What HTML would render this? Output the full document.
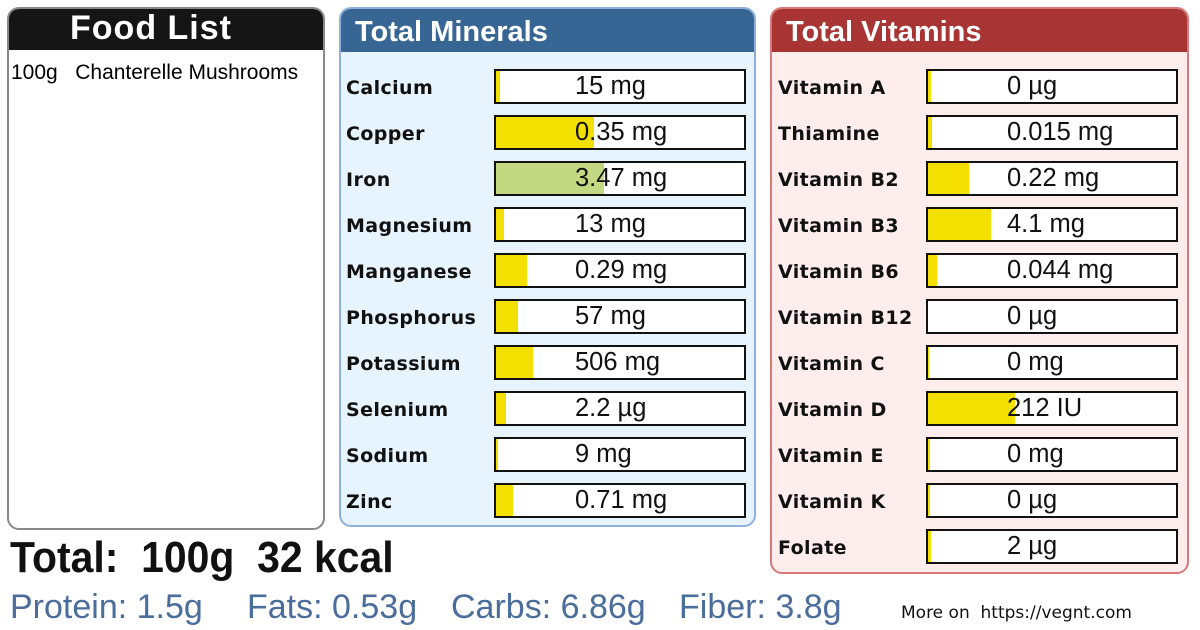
<!DOCTYPE html>
<html><head><meta charset="utf-8"><style>
body{margin:0;width:1200px;height:630px;background:#fff;position:relative;overflow:hidden;font-family:"Liberation Sans","DejaVu Sans",sans-serif}
.panel{position:absolute;border-radius:12px;overflow:hidden;box-sizing:border-box}
.hdr{position:absolute;left:0;right:0;top:0;color:#fff;font-weight:bold;font-size:29px}
.lbl{position:absolute;font-family:"DejaVu Sans",sans-serif;font-weight:bold;font-size:19px;letter-spacing:0.4px;color:#111}
.box{position:absolute;width:252px;height:35px;box-sizing:border-box;border:2px solid #111;background:#fff;overflow:hidden}
.fill{position:absolute;left:0;top:0;bottom:0}
.val{position:absolute;left:79px;top:0;font-size:25.5px;line-height:31px;color:#111;white-space:nowrap}
.mac{position:absolute;top:588px;font-size:34px;color:#4a6d9c;white-space:nowrap}
</style></head><body>
<div class="panel" style="left:7px;top:7px;width:318px;height:523px;border:2px solid #888">
 <div class="hdr" style="background:#151515;height:41px;text-align:center;line-height:38px;font-size:34px;letter-spacing:1px;padding-right:30px">Food List</div>
 <div style="position:absolute;left:2px;top:52px;font-size:21px;white-space:pre">100g   Chanterelle Mushrooms</div>
</div>
<div class="panel" style="left:339px;top:7px;width:417px;height:520px;border:2px solid #8fb0d8;background:#e7f3fd">
 <div class="hdr" style="background:#386694;height:43px;line-height:46px;padding-left:14px">Total Minerals</div>
</div>
<div class="panel" style="left:770px;top:7px;width:419px;height:567px;border:2px solid #d97878;background:#fdeded">
 <div class="hdr" style="background:#a83434;height:43px;line-height:46px;padding-left:14px">Total Vitamins</div>
</div>
<div style="position:absolute;left:10px;top:533px;font-size:44px;font-weight:bold;color:#111;transform:scaleX(0.93);transform-origin:left;white-space:pre">Total:  100g  32 kcal</div>
<div class="mac" style="left:10px">Protein: 1.5g</div>
<div class="mac" style="left:247px">Fats: 0.53g</div>
<div class="mac" style="left:451px">Carbs: 6.86g</div>
<div class="mac" style="left:679px">Fiber: 3.8g</div>
<div style="position:absolute;left:901px;top:603px;font-size:17px;color:#111;font-family:'DejaVu Sans',sans-serif;white-space:pre">More on  https://vegnt.com</div>
<script>
const mineralNames=["Calcium","Copper","Iron","Magnesium","Manganese","Phosphorus","Potassium","Selenium","Sodium","Zinc"];
const mineralValues=["15 mg","0.35 mg","3.47 mg","13 mg","0.29 mg","57 mg","506 mg","2.2 µg","9 mg","0.71 mg"];
const mineralPct=[1.6,39.5,43.5,3.2,12.5,8.8,15,4,0.8,6.8];
const vitaminNames=["Vitamin A","Thiamine","Vitamin B2","Vitamin B3","Vitamin B6","Vitamin B12","Vitamin C","Vitamin D","Vitamin E","Vitamin K","Folate"];
const vitaminValues=["0 µg","0.015 mg","0.22 mg","4.1 mg","0.044 mg","0 µg","0 mg","212 IU","0 mg","0 µg","2 µg"];
const vitaminPct=[1.2,1.6,16.7,25.5,3.6,0,0.4,35,0.8,0.8,1.2];
function rows(names,vals,pct,lx,bx,key){
 names.forEach((n,i)=>{
  const y=69+i*46;
  const l=document.createElement('div');l.className='lbl';
  l.style.left=lx+'px';l.style.top=(y+8)+'px';l.textContent=n;
  
  
  document.body.appendChild(l);
  const b=document.createElement('div');b.className='box';
  b.style.left=bx+'px';b.style.top=y+'px';
  
  
  const f=document.createElement('div');f.className='fill';
  f.style.width=pct[i]+'%';
  f.style.background=(key==='mineral'&&n==='Iron')?'#c3d880':'#f3e000';
  
  
  b.appendChild(f);
  const v=document.createElement('div');v.className='val';v.textContent=vals[i];
  
  
  b.appendChild(v);
  document.body.appendChild(b);
 });
}
rows(mineralNames,mineralValues,mineralPct,346,494,'mineral');
rows(vitaminNames,vitaminValues,vitaminPct,778,926,'vitamin');
</script>
</body></html>
